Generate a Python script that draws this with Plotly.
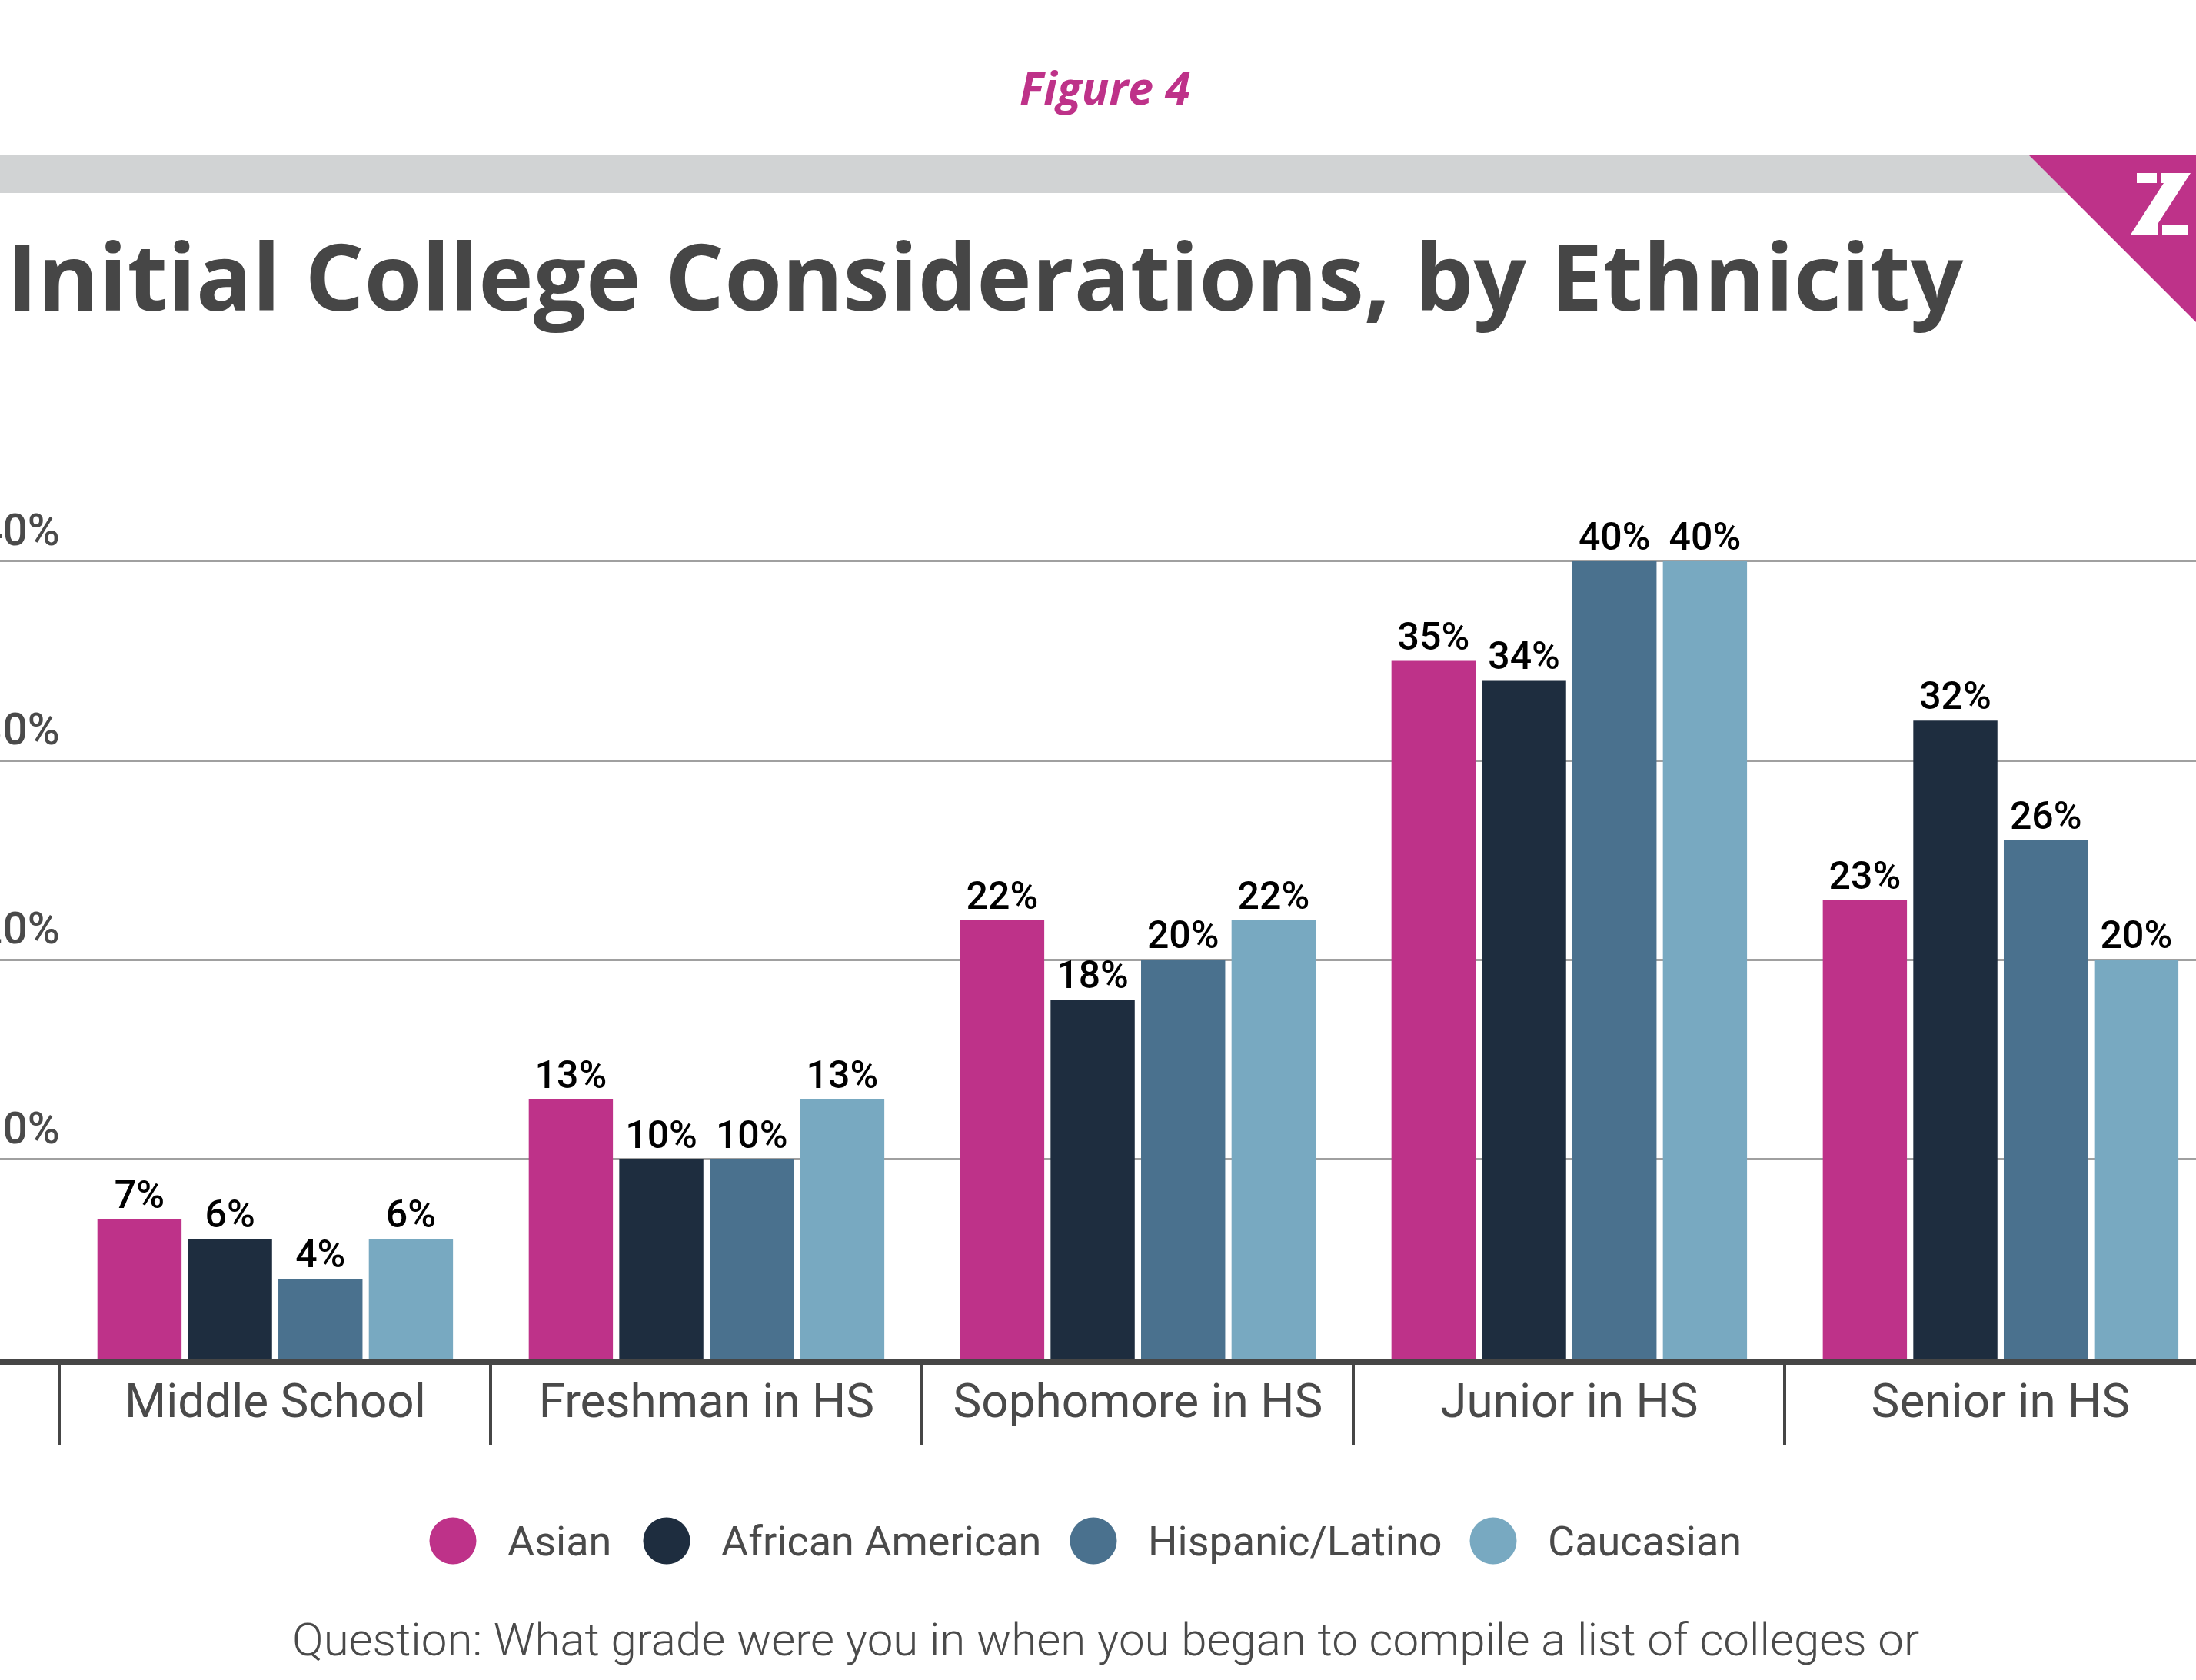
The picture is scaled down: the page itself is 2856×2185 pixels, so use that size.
import plotly.graph_objects as go

# ---- data ----
categories = ["Middle School", "Freshman in HS", "Sophomore in HS", "Junior in HS", "Senior in HS"]
asian = [7, 13, 22, 35, 23]
african_american = [6, 10, 18, 34, 32]
hispanic_latino = [4, 10, 20, 40, 26]
caucasian = [6, 13, 22, 40, 20]

series_names = ["Asian", "African American", "Hispanic/Latino", "Caucasian"]
series_values = [asian, african_american, hispanic_latino, caucasian]
series_colors = ["#BE3289", "#1E2D3F", "#4A718E", "#78A9C1"]

y_ticks = [10, 20, 30, 40]
y_tick_labels = ["10%", "20%", "30%", "40%"]

figure_label = "Figure 4"
title_text = "Initial College Considerations, by Ethnicity"
question_text = "Question: What grade were you in when you began to compile a list of colleges or"

# ---- canvas geometry (pixels) ----
W, H = 2856, 2185
PLOT_TOP, PLOT_BOTTOM = 678, 1767
MAGENTA = "#BE3289"
TEXT_GREY = "#4a4a4a"


def px(x):
    """pixel x -> paper x (plot area spans full width)"""
    return x / W


def py(y):
    """pixel y (from top of page) -> paper y"""
    return (PLOT_BOTTOM - y) / (PLOT_BOTTOM - PLOT_TOP)


def poly(points):
    return "M " + " L ".join(f"{px(x)},{py(y)}" for x, y in points) + " Z"


fig = go.Figure()

for name, vals, color in zip(series_names, series_values, series_colors):
    fig.add_trace(go.Bar(
        x=categories, y=vals, name=name,
        marker=dict(color=color, line=dict(width=0)),
        text=[f"{v}%" for v in vals],
        textposition="outside",
        textfont=dict(family="Roboto", size=50, color="#000000", weight=500),
        constraintext="none",
        cliponaxis=False,
        showlegend=False,
        hoverinfo="skip",
    ))

fig.update_layout(
    width=W, height=H,
    margin=dict(l=0, r=0, t=PLOT_TOP, b=H - PLOT_BOTTOM, pad=0),
    barmode="group", bargap=0.161, bargroupgap=0.07,
    paper_bgcolor="white", plot_bgcolor="white",
    showlegend=False,
)

fig.update_xaxes(
    type="category", range=[-0.638, 4.453],
    showline=True, linewidth=8, linecolor="#464646",
    ticks="outside", tickson="boundaries", ticklen=104, tickwidth=4, tickcolor="#464646",
    tickfont=dict(family="Roboto", size=62, color=TEXT_GREY),
    ticklabelstandoff=-6,
    showgrid=False, zeroline=False,
)
fig.update_yaxes(
    range=[0, 42], tickvals=y_ticks, showticklabels=False,
    showgrid=True, gridcolor="#a0a0a0", gridwidth=3,
    zeroline=False, showline=False, ticks="",
)

# y labels sit above their gridlines, hugging the left edge
for v, lab in zip(y_ticks, y_tick_labels):
    fig.add_annotation(
        x=px(80), xref="paper", xanchor="right",
        y=v, yref="y", yanchor="bottom", yshift=5,
        text=lab, showarrow=False,
        font=dict(family="Roboto", size=57, color=TEXT_GREY, weight=500),
    )

shapes = []
# grey header band
shapes.append(dict(type="rect", xref="paper", yref="paper",
                   x0=0, x1=1, y0=py(251), y1=py(202),
                   fillcolor="#D1D3D4", line=dict(width=0)))
# magenta corner triangle
shapes.append(dict(type="path", xref="paper", yref="paper",
                   path=poly([(2639, 202), (2856, 202), (2856, 419)]),
                   fillcolor=MAGENTA, line=dict(width=0)))
# white "Z" mark inside the triangle, split into three strokes
z_parts = [
    [(2779, 225), (2805, 225), (2805, 238), (2779, 238)],
    [(2811, 225), (2849, 225), (2807, 290), (2807, 305), (2771, 305), (2814, 238), (2811, 238)],
    [(2812, 292), (2846, 292), (2846, 305), (2812, 305)],
]
for part in z_parts:
    shapes.append(dict(type="path", xref="paper", yref="paper", path=poly(part),
                       fillcolor="white", line=dict(width=0)))

# legend: circles + labels
legend_x_px = [589, 867, 1422, 1942]
legend_y_px = 2004
legend_r = 30.5
for name, color, cx in zip(series_names, series_colors, legend_x_px):
    shapes.append(dict(type="circle", xref="paper", yref="paper",
                       x0=px(cx - legend_r), x1=px(cx + legend_r),
                       y0=py(legend_y_px + legend_r), y1=py(legend_y_px - legend_r),
                       fillcolor=color, line=dict(width=0)))
    fig.add_annotation(
        x=px(cx + 69), xref="paper", xanchor="left",
        y=py(legend_y_px), yref="paper", yanchor="middle",
        text=name, showarrow=False,
        font=dict(family="Roboto", size=54, color=TEXT_GREY),
    )

fig.update_layout(shapes=shapes)

# header texts
fig.add_annotation(
    x=px(1437), xref="paper", xanchor="center",
    y=py(113), yref="paper", yanchor="middle",
    text=f"<i><b>{figure_label}</b></i>", showarrow=False,
    font=dict(family="Open Sans", size=59, color=MAGENTA),
)
fig.add_annotation(
    x=0, xref="paper", xanchor="left", xshift=7,
    y=py(357), yref="paper", yanchor="middle",
    text=f"<b>{title_text}</b>", showarrow=False,
    font=dict(family="Open Sans", size=121, color="#464646"),
)
fig.add_annotation(
    x=px(1438), xref="paper", xanchor="center",
    y=py(2132), yref="paper", yanchor="middle",
    text=question_text, showarrow=False,
    font=dict(family="Roboto", size=60, color=TEXT_GREY, weight=300),
)

fig.write_html("out.html")
